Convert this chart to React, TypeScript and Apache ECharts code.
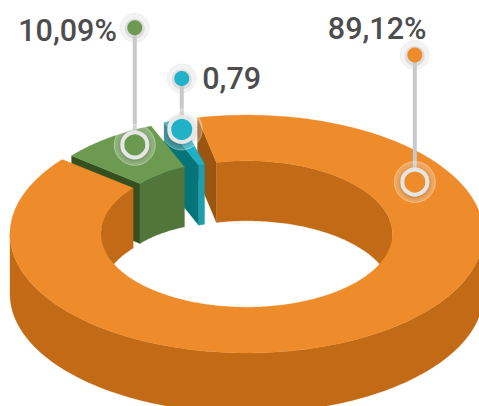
import React, { useEffect, useRef } from "react";
import * as echarts from "echarts";

// Data
const names = ["orange", "green", "teal"];
const shares = [89.12, 10.09, 0.79];
const labels = ["89,12%", "10,09%", "0,79"];

// Palette per slice
const topColors = ["#EE8B2A", "#6B9A50", "#20AFC4"];
const wallColors = ["#C26A16", "#50763A", "#06757A"];
const cutColors = ["#9A5510", "#34501F", "#1E9DAB"];
const dotColors = ["#EE8B2A", "#6B9A50", "#20B2C8"];

// Hand-drawn projection of each slice (the source infographic is not proportional for the pulled out slices)
const TILT = 0.5025;
const DEPTH = 60;
const centers = [[246.7, 234], [227, 219], [218, 189]];
const outerR = [236.7, 200, 143];
const innerR = [145.7, 112, 51];
const startAngles = [-12, -51, -22.2];
const sweepScale = [1, 0.79, 2.43];

// Marker layout per slice: anchor angle, anchor radius, stem length, label placement
const anchorAngle = [58.4, -32, -17];
const anchorRadius = [197.4, 174, 124];
const stemLength = [127, 117, 51];
const labelDx = [-87, -116.5, 20.5];
const labelDy = [-27, 3, 0];

const pt = (i: number, r: number, a: number, dz = 0): number[] => {
  const rad = (a * Math.PI) / 180;
  return [centers[i][0] + r * Math.sin(rad), centers[i][1] - r * TILT * Math.cos(rad) + dz];
};
const arc = (i: number, r: number, a0: number, a1: number, dz = 0): number[][] => {
  const n = Math.max(2, Math.ceil(Math.abs(a1 - a0)));
  const out: number[][] = [];
  for (let k = 0; k <= n; k++) out.push(pt(i, r, a0 + ((a1 - a0) * k) / n, dz));
  return out;
};
const poly = (points: number[][], fill: string, stroke?: string) => ({
  type: "polygon",
  shape: { points },
  style: { fill, stroke: stroke ?? fill, lineWidth: stroke ? 0.6 : 0.3 },
});
const band = (i: number, r0: number, r1: number, a0: number, a1: number, dz0: number, dz1: number) => [
  ...arc(i, r0, a0, a1, dz0),
  ...arc(i, r1, a1, a0, dz1),
];
const span = (i: number, share: number) => {
  const a0 = startAngles[i];
  return [a0, a0 + share * 3.6 * sweepScale[i]];
};

// Behind the pulled-out slices: the cut face and the inner wall on the right
const sliceBack = (i: number, share: number) => {
  const [a0, a1] = span(i, share);
  return [
    poly(
      [pt(i, outerR[i], a0), pt(i, innerR[i], a0), pt(i, innerR[i], a0, DEPTH), pt(i, outerR[i], a0, DEPTH)],
      cutColors[i]
    ),
    poly(band(i, innerR[i], innerR[i], Math.max(a0, -90), Math.min(a1, 90), 0, DEPTH), wallColors[i]),
  ];
};

// In front of them: the inner wall on the left, the outer wall and the top
const sliceFront = (i: number, share: number) => {
  const [a0, a1] = span(i, share);
  const kids: any[] = [];
  if (a1 > 270) kids.push(poly(band(i, innerR[i], innerR[i], 270, a1, 0, DEPTH), wallColors[i]));
  kids.push(poly(band(i, outerR[i], outerR[i], Math.max(a0, 90), Math.min(a1, 270), 0, DEPTH), wallColors[i]));
  kids.push(poly(band(i, outerR[i], innerR[i], a0, a1, 0, 0), topColors[i]));
  return kids;
};

// Pulled-out slices: near cut face, inner wall, then top surface
const slicePulled = (i: number, share: number) => {
  const [a0, a1] = span(i, share);
  const faceColors = i === 2 ? [wallColors[2], cutColors[2]] : [cutColors[1], wallColors[1]];
  return [
    poly(
      [pt(i, outerR[i], a0), pt(i, innerR[i], a0), pt(i, innerR[i], a0, DEPTH), pt(i, outerR[i], a0, DEPTH)],
      faceColors[0]
    ),
    poly(band(i, innerR[i], innerR[i], a0, a1, 0, DEPTH), faceColors[1]),
    poly(band(i, outerR[i], innerR[i], a0, a1, 0, 0), topColors[i]),
  ];
};

const marker = (i: number) => {
  const [ax, ay] = pt(i, anchorRadius[i], anchorAngle[i]);
  const sy = ay - stemLength[i];
  const shadow = { shadowBlur: 4, shadowColor: "rgba(0,0,0,0.3)", shadowOffsetY: 1 };
  return [
    { type: "circle", shape: { cx: ax, cy: sy, r: 14.5 }, style: { fill: "rgba(215,215,215,0.3)", stroke: "rgba(225,225,225,0.4)", lineWidth: 1 } },
    { type: "circle", shape: { cx: ax, cy: sy + 1, r: 10 }, style: { fill: "#dddddd" } },
    { type: "line", shape: { x1: ax, y1: sy, x2: ax, y2: ay }, style: { stroke: "#C9C9C9", lineWidth: 4 } },
    { type: "circle", shape: { cx: ax, cy: sy, r: 7.5 }, style: { fill: dotColors[i] } },
    { type: "circle", shape: { cx: ax, cy: ay, r: 20.5 }, style: { fill: "rgba(255,255,255,0.25)", stroke: "rgba(255,255,255,0.35)", lineWidth: 1 } },
    { type: "circle", shape: { cx: ax, cy: ay, r: 12.5 }, style: { fill: dotColors[i], stroke: "#E6E6E6", lineWidth: 4, ...shadow } },
    {
      type: "text",
      style: {
        text: labels[i],
        x: ax + labelDx[i],
        y: sy + labelDy[i],
        fill: "#4D4D4D",
        font: "500 30.5px Roboto",
        textAlign: "left",
        textVerticalAlign: "middle",
      },
    },
  ];
};

const layer = (name: string, index: number, draw: (i: number, share: number) => any[]) => ({
  type: "custom",
  name,
  coordinateSystem: "none",
  silent: true,
  data: [[index, shares[index]]],
  renderItem: (_: any, api: any) => ({
    type: "group",
    children: draw(api.value(0) as number, api.value(1) as number),
  }),
});

export default function App() {
  const ref = useRef<HTMLDivElement>(null);
  useEffect(() => {
    const chart = echarts.init(ref.current!, undefined, { renderer: "svg" });
    chart.setOption({
      animation: false,
      backgroundColor: "#ffffff",
      series: [
        layer(names[0] + "-back", 0, sliceBack),
        layer(names[2], 2, slicePulled),
        layer(names[1], 1, slicePulled),
        layer(names[0] + "-front", 0, sliceFront),
        layer("marker-" + names[1], 1, (i) => marker(i)),
        layer("marker-" + names[2], 2, (i) => marker(i)),
        layer("marker-" + names[0], 0, (i) => marker(i)),
      ],
    });
    return () => chart.dispose();
  }, []);
  return <div ref={ref} style={{ position: "absolute", left: 0, top: 0, width: 479, height: 406 }} />;
}
